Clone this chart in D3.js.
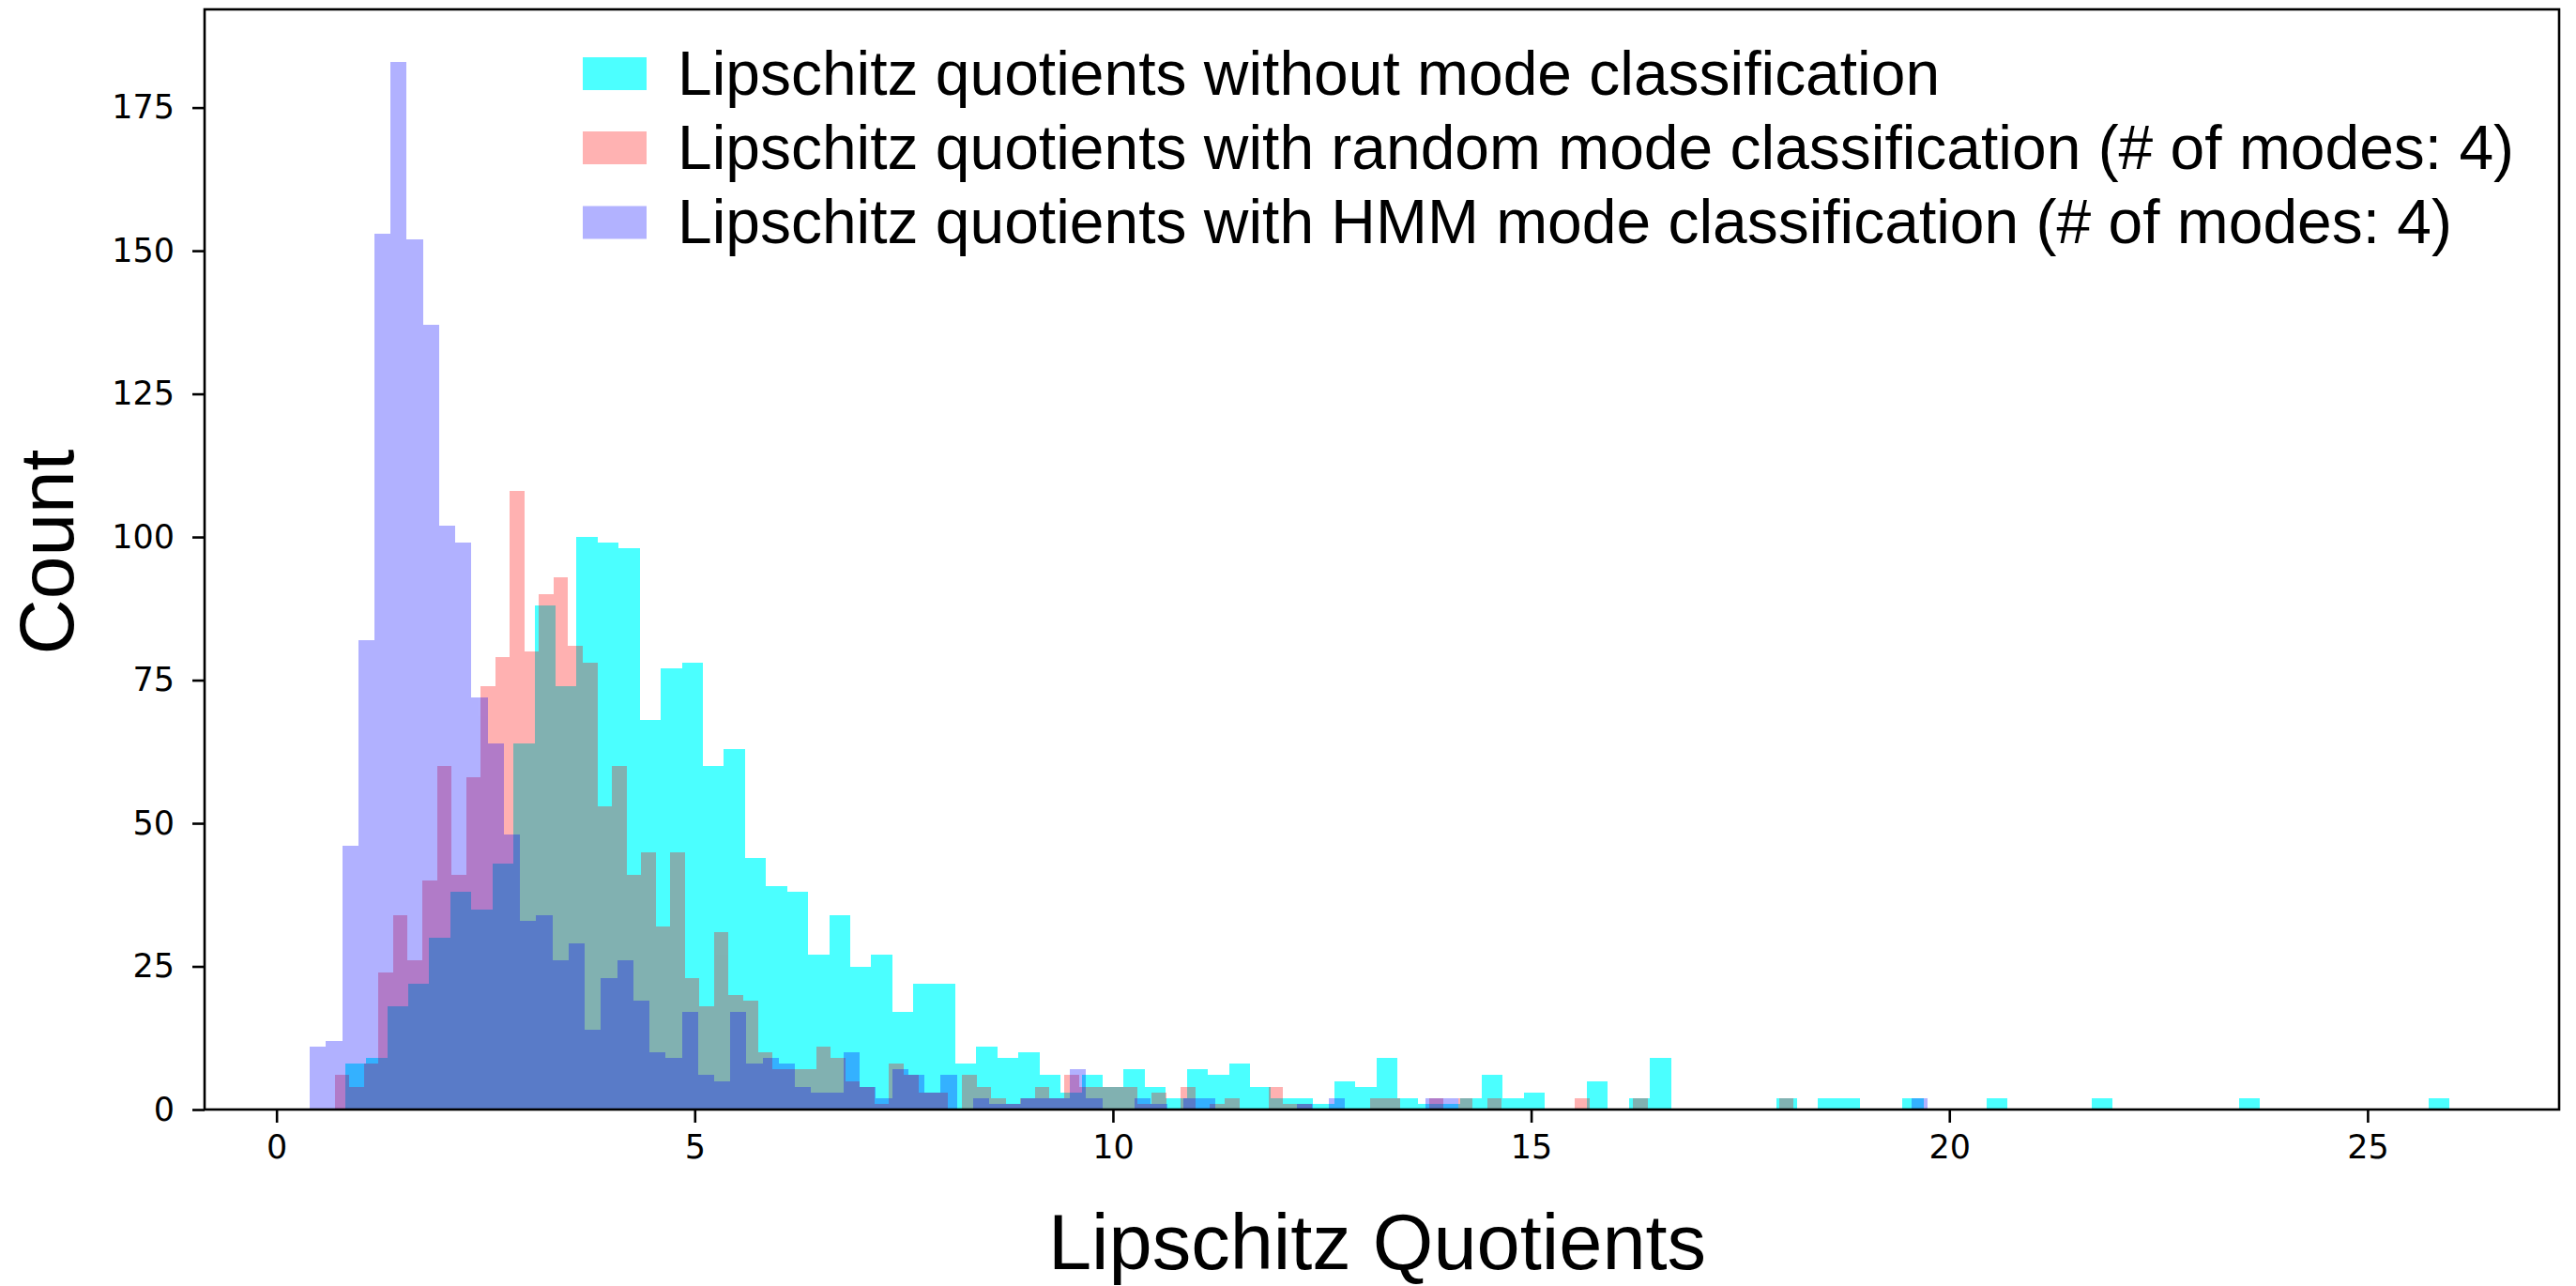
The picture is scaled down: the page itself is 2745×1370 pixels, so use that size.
<!DOCTYPE html>
<html><head><meta charset="utf-8">
<script src="https://cdn.jsdelivr.net/npm/d3@7/dist/d3.min.js"></script>
<style>body{margin:0;background:#fff;overflow:hidden}</style>
</head><body>
<svg id="chart" width="2745" height="1370" xmlns="http://www.w3.org/2000/svg"></svg>
<script>
// ---------------- data ----------------
const seriesLabels = [
  "Lipschitz quotients without mode classification",
  "Lipschitz quotients with random mode classification (# of modes: 4)",
  "Lipschitz quotients with HMM mode classification (# of modes: 4)"
];
// histogram bins: first edge and bin width per series (100 bins each)
const cyanBinStart = 0.82,  cyanBinWidth = 0.2516;
const redBinStart  = 0.697, redBinWidth  = 0.1744;
const blueBinStart = 0.397, blueBinWidth = 0.1934;

const cyanCounts = [8,9,18,22,30,38,35,43,64,88,
  74,100,99,98,68,77,78,60,63,44,
  39,38,27,34,25,27,17,22,22,8,
  11,9,10,6,3,6,4,7,4,2,
  7,6,8,4,2,2,1,5,4,9,
  2,1,1,2,6,2,3,0,0,5,
  0,2,9,0,0,0,0,0,2,0,
  2,2,0,0,2,0,0,0,2,0,
  0,0,0,2,0,0,0,0,0,0,
  2,0,0,0,0,0,0,0,0,2];
const redCounts = [6,4,8,24,34,26,40,60,41,58,
  74,79,108,80,90,93,81,78,53,60,
  41,45,32,45,23,18,31,20,19,10,
  7,7,7,11,9,5,4,1,8,6,
  3,3,0,6,4,2,1,2,4,2,
  6,4,4,4,4,1,3,0,4,0,
  1,2,0,0,4,1,1,0,0,0,
  0,2,2,0,0,2,0,2,0,2,
  0,0,0,0,0,2,0,0,0,2,
  0,0,0,0,0,0,0,0,0,2];
const blueCounts = [11,12,46,82,153,183,152,137,102,99,
  72,64,48,33,34,26,29,14,23,26,
  19,10,9,17,6,5,17,8,9,8,
  4,3,3,10,4,2,7,6,3,6,
  0,2,1,1,2,2,2,7,2,0,
  0,2,1,0,2,2,0,0,0,0,
  0,1,0,2,0,0,0,0,0,2,
  2,0,0,0,0,0,0,0,0,0,
  0,0,0,0,0,0,0,0,0,0,
  0,0,0,0,0,0,0,0,0,2];

const xTicks = [0,5,10,15,20,25];
const yTicks = [0,25,50,75,100,125,150,175];
const xLabel = "Lipschitz Quotients";
const yLabel = "Count";

// ---------------- layout ----------------
const plot = {left:218, right:2727, top:10, bottom:1182};
const x = d3.scaleLinear().domain([-0.86, 27.29]).range([plot.left, plot.right]);
const y = d3.scaleLinear().domain([0, 192.15]).range([plot.bottom, plot.top]);

const series = [
  {counts: cyanCounts, start: cyanBinStart, width: cyanBinWidth, color:"#00ffff", alpha:0.7},
  {counts: redCounts,  start: redBinStart,  width: redBinWidth,  color:"#ff0000", alpha:0.3},
  {counts: blueCounts, start: blueBinStart, width: blueBinWidth, color:"#0000ff", alpha:0.3}
];

const svg = d3.select("#chart");
svg.append("rect").attr("width",2745).attr("height",1370).attr("fill","#fff");

const bars = svg.append("g");
series.forEach(s => {
  const bins = s.counts.map((c,i) => ({x0: s.start + i*s.width, x1: s.start + (i+1)*s.width, c}))
                       .filter(b => b.c > 0);
  bars.append("g").attr("opacity", s.alpha)
    .selectAll("rect").data(bins).join("rect")
    .attr("shape-rendering","crispEdges")
    .attr("x", b => x(b.x0))
    .attr("width", b => x(b.x1) - x(b.x0))
    .attr("y", b => y(b.c))
    .attr("height", b => y(0) - y(b.c))
    .attr("fill", s.color);
});

// axes
const tickFont = "'DejaVu Sans', sans-serif";
const yAxis = svg.append("g").attr("transform",`translate(${plot.left},0)`)
  .call(d3.axisLeft(y).tickValues(yTicks).tickSize(13).tickPadding(19).tickFormat(d3.format("d")));
const xAxis = svg.append("g").attr("transform",`translate(0,${plot.bottom})`)
  .call(d3.axisBottom(x).tickValues(xTicks).tickSize(14).tickPadding(13).tickFormat(d3.format("d")));
[xAxis, yAxis].forEach(a => {
  a.select(".domain").remove();
  a.selectAll(".tick line").attr("stroke","#000").attr("stroke-width",2.6);
  a.selectAll(".tick text").attr("fill","#000").style("font-family",tickFont).style("font-size","35px");
});

// frame
svg.append("rect").attr("x",plot.left).attr("y",plot.top)
  .attr("width",plot.right-plot.left).attr("height",plot.bottom-plot.top)
  .attr("fill","none").attr("stroke","#000").attr("stroke-width",2.6);

// axis labels
const labelFont = "'Liberation Sans', Arial, sans-serif";
svg.append("text").text(xLabel)
  .attr("x",(plot.left+plot.right)/2 - 5).attr("y",1352)
  .attr("text-anchor","middle").style("font-family",labelFont).style("font-size","83px").attr("fill","#000");
svg.append("text").text(yLabel)
  .attr("transform",`translate(78,${(plot.top+plot.bottom)/2 - 8}) rotate(-90)`)
  .attr("text-anchor","middle").style("font-family",labelFont).style("font-size","82px").attr("fill","#000");

// legend
const legend = svg.append("g");
const rowCenters = [78.5, 157.5, 237];
const legendColors = series.map(s => d3.color(s.color).copy({opacity:s.alpha}));
const texts = [];
seriesLabels.forEach((lab,i) => {
  legend.append("rect").attr("x",621).attr("y",rowCenters[i]-17.5)
    .attr("width",68).attr("height",35).attr("fill",legendColors[i].toString());
  const t = legend.append("text").text(lab).attr("x",722).attr("y",rowCenters[i]+22)
    .style("font-family",labelFont).style("font-size","64px").attr("fill","#000");
  texts.push(t);
});
// fit legend font so the longest label spans its measured width
const w2 = texts[1].node().getComputedTextLength();
const fs = 64 * 1957 / w2;
texts.forEach((t,i) => t.style("font-size", fs.toFixed(2)+"px").attr("y", rowCenters[i] + fs*0.34));
</script>
</body></html>
